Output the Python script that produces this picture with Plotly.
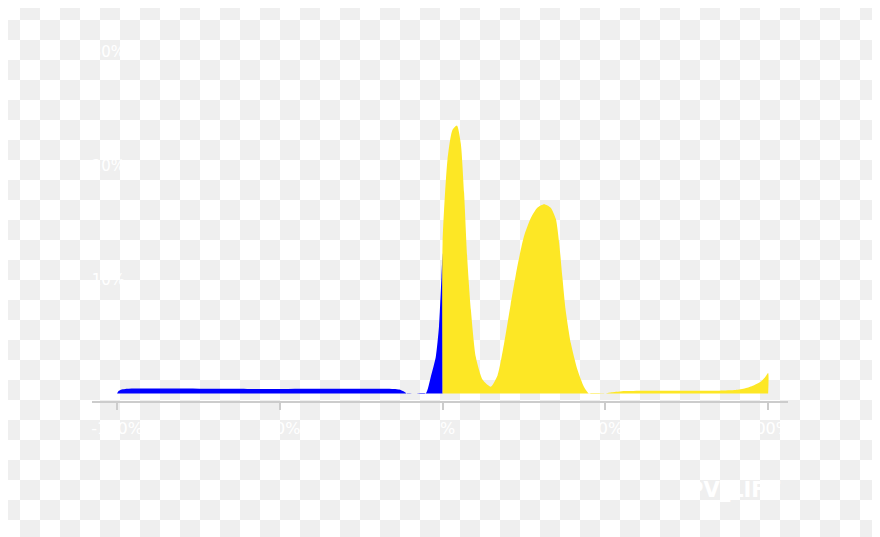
import plotly.graph_objects as go

# ---- data (PV_LIFT density, percent units) ----
blue_x = [-100, -99.6, -98.8, -97.5, -60, -15, -13.3, -12.2, -11.4, -11.2,
          -8.5, -5.2, -3.6, -2.1, -1.1, -0.35, 0, 0]
blue_y = [0, 0.2, 0.33, 0.4, 0.4, 0.4, 0.35, 0.22, 0.08, 0,
          0, 0, 1.5, 3.2, 5.9, 10.2, 12.3, 0]

yellow_x = [0, 0, 1.5, 3.0, 4.4, 5.6, 6.6, 7.6, 8.7, 10.2, 12.3, 14.8, 16.9,
            18.9, 20.9, 23.0, 25.0, 27.1, 29.1, 31.2, 33.2, 34.8, 35.8, 36.8,
            37.8, 39.4, 41.4, 43.4, 45.0, 50.0, 52, 56, 70, 85, 90, 93, 95.5,
            97.6, 99, 100, 100]
yellow_y = [0, 13.2, 20.5, 23.1, 23.5, 21.9, 17.6, 11.7, 7.3, 3.2, 1.2, 0.6,
            1.6, 4.4, 7.8, 11.2, 13.8, 15.4, 16.3, 16.6, 16.3, 15.3, 13.2, 10.2,
            7.3, 4.4, 2.1, 0.6, 0, 0, 0.1, 0.22, 0.25, 0.25, 0.3, 0.45, 0.7,
            1.0, 1.4, 1.8, 0]

x_tickvals = [-100, -50, 0, 50, 100]
x_ticktext = ["-100%", "-50%", "0%", "50%", "100%"]
y_tickvals = [10, 20, 30]
y_ticktext = ["10%", "20%", "30%"]
x_title = "PV_LIFT"

# ---- layout geometry (page pixels; the page body adds an 8px offset) ----
OFF = 8
W, H = 880 - OFF, 537 - OFF
ML = 92 - OFF
MT = 20 - OFF
MR = W - (788 - OFF)
MB = H - (401 - OFF)
PW, PH = W - ML - MR, H - MT - MB


def px_to_paper_x(page_px):
    return (page_px - OFF - ML) / PW


def py_to_paper_y(page_py):
    return 1 - (page_py - OFF - MT) / PH


fig = go.Figure()

fig.add_trace(go.Scatter(
    x=blue_x, y=blue_y, mode="lines", fill="tozeroy",
    line=dict(width=0, shape="spline", smoothing=0.6),
    fillcolor="#0000ff", hoverinfo="skip", showlegend=False))

fig.add_trace(go.Scatter(
    x=yellow_x, y=yellow_y, mode="lines", fill="tozeroy",
    line=dict(width=0, shape="spline", smoothing=0.6),
    fillcolor="#FDE725", hoverinfo="skip", showlegend=False))

# checkerboard backdrop (transparent-image look)
shapes = []
cell = 20
for i in range(880 // cell + 1):
    for j in range(537 // cell + 1):
        if (i + j) % 2 == 1:
            shapes.append(dict(
                type="rect", xref="paper", yref="paper", layer="below",
                x0=px_to_paper_x(i * cell), x1=px_to_paper_x((i + 1) * cell),
                y0=py_to_paper_y((j + 1) * cell), y1=py_to_paper_y(j * cell),
                line=dict(width=0), fillcolor="#efefef"))

fig.update_layout(
    width=W, height=H,
    margin=dict(l=ML, r=MR, t=MT, b=MB),
    paper_bgcolor="white", plot_bgcolor="rgba(0,0,0,0)",
    shapes=shapes,
    font=dict(family="DejaVu Sans", color="white"),
    xaxis=dict(range=[-107.7, 106.1], tickvals=x_tickvals, ticktext=x_ticktext,
               showgrid=False, zeroline=False, showline=True,
               linecolor="#cccccc", linewidth=1.5,
               ticks="outside", ticklen=7, tickcolor="#cccccc", tickwidth=1.5,
               ticklabelstandoff=5,
               tickfont=dict(size=16, color="white")),
    yaxis=dict(range=[-0.658, 32.76], tickvals=y_tickvals, ticktext=y_ticktext,
               showgrid=False, zeroline=False, showline=False,
               ticks="", ticklabelposition="outside", ticklabelstandoff=-34,
               tickfont=dict(size=15, color="white")),
    annotations=[dict(
        text="<b>" + x_title + "</b>", xref="paper", yref="paper",
        x=px_to_paper_x(783), y=py_to_paper_y(490),
        xanchor="right", yanchor="middle", showarrow=False,
        font=dict(size=21, color="white", family="DejaVu Sans"))],
)

fig.write_html("out.html")
